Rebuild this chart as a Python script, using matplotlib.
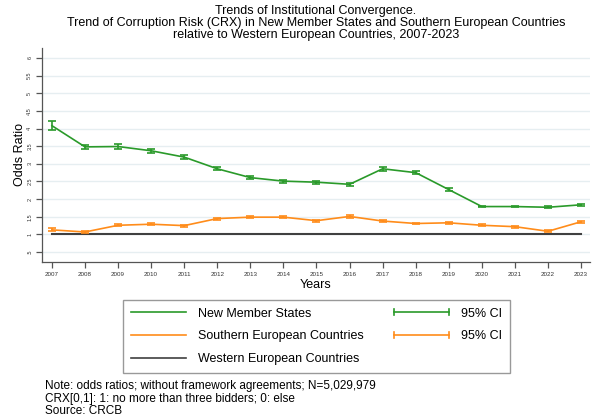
import matplotlib
matplotlib.use("Agg")
import matplotlib.pyplot as plt
from matplotlib.lines import Line2D
from matplotlib.legend_handler import HandlerBase

plt.rcParams['font.family'] = ['Liberation Sans', 'DejaVu Sans']

years = list(range(2007, 2024))
nms = [4.08, 3.48, 3.49, 3.37, 3.19, 2.86, 2.61, 2.51, 2.48, 2.42, 2.86, 2.75, 2.27, 1.79, 1.79, 1.77, 1.84]
nms_err = [0.12, 0.06, 0.06, 0.05, 0.05, 0.04, 0.04, 0.04, 0.04, 0.04, 0.05, 0.04, 0.04, 0.025, 0.025, 0.025, 0.025]
sec = [1.13, 1.07, 1.26, 1.29, 1.25, 1.45, 1.49, 1.49, 1.39, 1.51, 1.38, 1.31, 1.33, 1.26, 1.22, 1.09, 1.36]
sec_err = [0.04, 0.03, 0.03, 0.03, 0.03, 0.03, 0.03, 0.03, 0.03, 0.03, 0.025, 0.025, 0.025, 0.025, 0.025, 0.025, 0.03]
wec = [1.0] * len(years)
yticks = [0.5, 1, 1.5, 2, 2.5, 3, 3.5, 4, 4.5, 5, 5.5, 6]
ytick_labels = ['.5', '1', '1.5', '2', '2.5', '3', '3.5', '4', '4.5', '5', '5.5', '6']

GREEN = '#2a9a2a'
ORANGE = '#ff8c1a'
DARK = '#404040'

fig = plt.figure(figsize=(5.98, 4.19), dpi=100)
ax = fig.add_axes([42/598, 1 - 262/419, (590 - 42)/598, (262 - 48)/419])

for y in yticks:
    ax.axhline(y, color='#e6eef1', lw=1.0, zorder=0)

ax.plot(years, wec, color=DARK, lw=1.5, zorder=2)
ax.errorbar(years, nms, yerr=nms_err, color=GREEN, lw=1.2, elinewidth=1.2,
            capsize=3, capthick=1.2, zorder=3)
ax.errorbar(years, sec, yerr=sec_err, color=ORANGE, lw=1.2, elinewidth=1.2,
            capsize=3, capthick=1.2, zorder=3)

ax.set_xlim(2006.7, 2023.27)
ax.set_ylim(0.22, 6.28)
ax.set_xticks(years)
ax.set_xticklabels([str(y) for y in years], fontsize=4.5, color='#333333')
ax.set_yticks(yticks)
ax.set_yticklabels(ytick_labels, fontsize=4, rotation=90, va='center', color='#333333')
ax.tick_params(axis='both', length=4, width=0.9, color='#555555', pad=3)
for s in ['top', 'right']:
    ax.spines[s].set_visible(False)
for s in ['left', 'bottom']:
    ax.spines[s].set_color('#555555')
    ax.spines[s].set_linewidth(0.9)

ax.set_ylabel('Odds Ratio', fontsize=9, labelpad=1)
ax.set_xlabel('Years', fontsize=9, labelpad=2)
ax.set_title('Trends of Institutional Convergence.\n'
             'Trend of Corruption Risk (CRX) in New Member States and Southern European Countries\n'
             'relative to Western European Countries, 2007-2023',
             fontsize=9, linespacing=1.0, pad=7)


class CIHandle:
    def __init__(self, color):
        self.color = color


class CIHandler(HandlerBase):
    def create_artists(self, legend, orig_handle, xdescent, ydescent, width, height, fontsize, trans):
        y = height / 2 - ydescent
        c = orig_handle.color
        h = height * 0.35
        line = Line2D([-xdescent, -xdescent + width], [y, y], color=c, lw=1.2, transform=trans)
        cap1 = Line2D([-xdescent, -xdescent], [y - h, y + h], color=c, lw=1.2, transform=trans)
        cap2 = Line2D([-xdescent + width, -xdescent + width], [y - h, y + h], color=c, lw=1.2, transform=trans)
        return [line, cap1, cap2]


handles = [Line2D([], [], color=GREEN, lw=1.2),
           Line2D([], [], color=ORANGE, lw=1.2),
           Line2D([], [], color=DARK, lw=1.2),
           CIHandle(GREEN), CIHandle(ORANGE)]
labels = ['New Member States', 'Southern European Countries', 'Western European Countries',
          '95% CI', '95% CI']
leg = fig.legend(handles, labels, ncol=2, loc='upper left',
                 bbox_to_anchor=(123/598, 1 - 372/419, (510 - 123)/598, (372 - 300)/419),
                 mode='expand', fontsize=9, frameon=True, fancybox=False,
                 handlelength=4.4, handletextpad=1.0, columnspacing=2.0,
                 labelspacing=0.85, borderpad=0.62, borderaxespad=0,
                 handler_map={CIHandle: CIHandler()})
leg.get_frame().set_edgecolor('#808080')
leg.get_frame().set_linewidth(1.0)

fig.text(45/598, 1 - 380/419,
         'Note: odds ratios; without framework agreements; N=5,029,979\n'
         'CRX[0,1]: 1: no more than three bidders; 0: else\n'
         'Source: CRCB',
         fontsize=8.5, va='top', ha='left', linespacing=1.08)

fig.savefig('out.png', dpi=100)
